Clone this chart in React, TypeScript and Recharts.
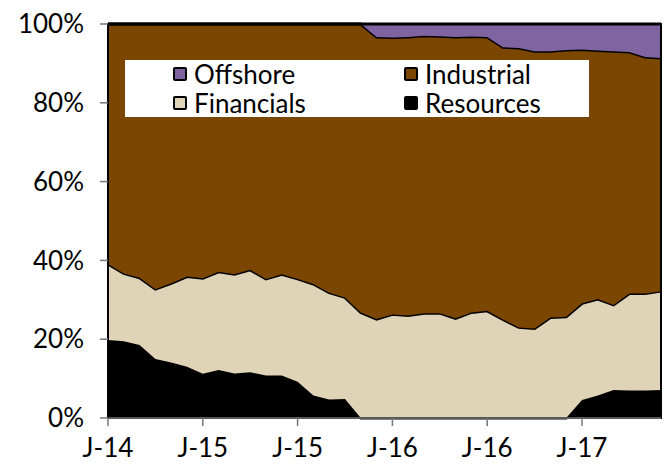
import React from 'react';
import { AreaChart, Area, XAxis, YAxis, ReferenceArea } from 'recharts';

const months = [
  'Jul-14', 'Aug-14', 'Sep-14', 'Oct-14', 'Nov-14', 'Dec-14',
  'Jan-15', 'Feb-15', 'Mar-15', 'Apr-15', 'May-15', 'Jun-15',
  'Jul-15', 'Aug-15', 'Sep-15', 'Oct-15', 'Nov-15', 'Dec-15',
  'Jan-16', 'Feb-16', 'Mar-16', 'Apr-16', 'May-16', 'Jun-16',
  'Jul-16', 'Aug-16', 'Sep-16', 'Oct-16', 'Nov-16', 'Dec-16',
  'Jan-17', 'Feb-17', 'Mar-17', 'Apr-17', 'May-17', 'Jun-17',
];

// shares in %, bottom to top
const resources = [
  19.8, 19.5, 18.5, 15.0, 14.1, 13.0, 11.2, 12.2, 11.3, 11.6, 10.8, 10.8,
  9.2, 5.7, 4.7, 4.8, 0, 0, 0, 0, 0, 0, 0, 0,
  0, 0, 0, 0, 0, 0, 4.6, 5.7, 7.1, 7.0, 7.0, 7.1,
];
const financials = [
  19.3, 17.2, 17.1, 17.7, 20.1, 22.9, 24.3, 24.9, 25.2, 26.0, 24.5, 25.7,
  26.1, 28.3, 27.1, 25.8, 26.8, 25.1, 26.3, 26.0, 26.6, 26.6, 25.3, 26.8,
  27.2, 25.0, 23.0, 22.7, 25.5, 25.7, 24.5, 24.5, 21.6, 24.6, 24.6, 25.1,
];
const industrial = [
  60.9, 63.3, 64.4, 67.3, 65.8, 64.1, 64.5, 62.9, 63.5, 62.4, 64.7, 63.5,
  64.7, 66.0, 68.2, 69.4, 73.2, 71.6, 70.3, 70.7, 70.4, 70.3, 71.4, 70.0,
  69.5, 69.1, 70.9, 70.4, 67.6, 67.7, 64.4, 63.1, 64.4, 61.3, 60.0, 59.2,
];
const offshore = [
  0, 0, 0, 0, 0, 0, 0, 0, 0, 0, 0, 0,
  0, 0, 0, 0, 0, 3.3, 3.4, 3.3, 3.0, 3.1, 3.3, 3.2,
  3.3, 5.9, 6.1, 6.9, 6.9, 6.6, 6.5, 6.7, 6.9, 7.1, 8.4, 8.6,
];

const yTicks = [0, 20, 40, 60, 80, 100];

const data = months.map((month, i) => ({
  month,
  Resources: resources[i],
  Financials: financials[i],
  Industrial: industrial[i],
  Offshore: offshore[i],
}));

const FONT = 'Lato, sans-serif';

const legendItems = [
  { name: 'Offshore', color: '#8064A2', left: 48, top: 8 },
  { name: 'Industrial', color: '#7A4600', left: 279, top: 8 },
  { name: 'Financials', color: '#E0D4B8', left: 48, top: 37 },
  { name: 'Resources', color: '#000000', left: 279, top: 37 },
];

const ChartLegend = () => (
  <div style={{ position: 'absolute', left: 125, top: 60, width: 464, height: 57, background: '#fff' }}>
    {legendItems.map(item => (
      <div key={item.name} style={{ position: 'absolute', left: item.left, top: item.top - 8, display: 'flex', alignItems: 'center' }}>
        <span style={{
          display: 'inline-block', width: 14, height: 14, boxSizing: 'border-box',
          background: item.color, border: '2px solid #000', borderRadius: 2, marginRight: 7,
        }} />
        <span style={{ fontFamily: FONT, fontSize: 26, color: '#000', lineHeight: '28px' }}>{item.name}</span>
      </div>
    ))}
  </div>
);

const App: React.FC = () => {
  return (
    <div style={{ position: 'absolute', left: 0, top: 0, width: 669, height: 470, background: '#fff' }}>
      <AreaChart width={669} height={470} data={data} margin={{ top: 24, right: 8, bottom: 0, left: 0 }}>
        <XAxis
          dataKey="month"
          interval={5}
          tickFormatter={(m: string) => `${m[0]}-${m.slice(4)}`}
          height={52}
          tickSize={8}
          tickMargin={13}
          axisLine={{ stroke: '#777', strokeWidth: 1.5 }}
          tickLine={{ stroke: '#777', strokeWidth: 1.5 }}
          tick={{ fill: '#000', fontSize: 26, fontFamily: FONT }}
        />
        <YAxis
          width={108}
          domain={[0, 100]}
          ticks={yTicks}
          tickFormatter={(v: number) => `${v}%`}
          tickSize={8}
          tickMargin={16}
          axisLine={{ stroke: '#000', strokeWidth: 2 }}
          tickLine={{ stroke: '#777', strokeWidth: 1.5 }}
          tick={{ fill: '#000', fontSize: 26, fontFamily: FONT }}
        />
        <Area type="linear" dataKey="Resources" stackId="a" fill="#000000" fillOpacity={1} stroke="#000" strokeWidth={3} isAnimationActive={false} />
        <Area type="linear" dataKey="Financials" stackId="a" fill="#E0D4B8" fillOpacity={1} stroke="#000" strokeWidth={3} isAnimationActive={false} />
        <Area type="linear" dataKey="Industrial" stackId="a" fill="#7A4600" fillOpacity={1} stroke="#000" strokeWidth={3} isAnimationActive={false} />
        <Area type="linear" dataKey="Offshore" stackId="a" fill="#8064A2" fillOpacity={1} stroke="#000" strokeWidth={3} isAnimationActive={false} />
        <ReferenceArea x1={months[0]} x2={months[months.length - 1]} y1={0} y2={100} fill="none" stroke="#000" strokeWidth={2} />
      </AreaChart>
      <ChartLegend />
    </div>
  );
};

export default App;
